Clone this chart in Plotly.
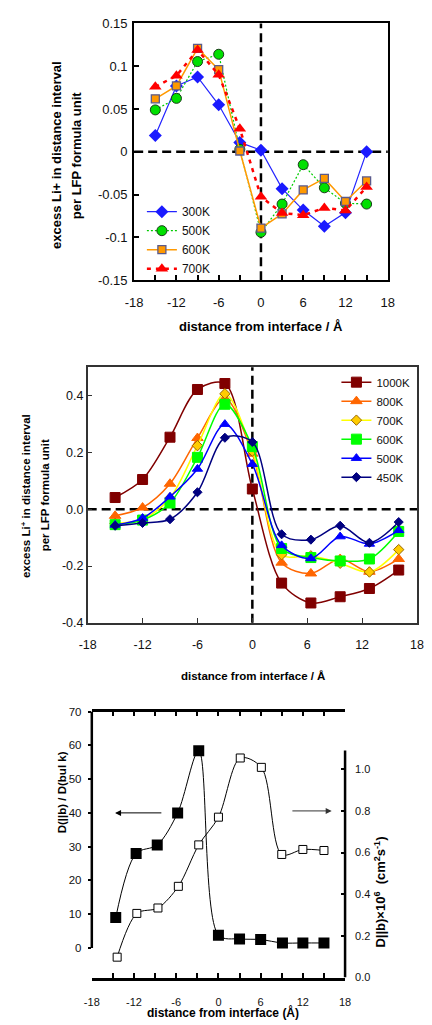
import plotly.graph_objects as go

# ---------------- data ----------------
# Panel 1: excess Li+ (MD, low temperatures)
P1_X = [-15, -12, -9, -6, -3, 0, 3, 6, 9, 12, 15]
P1_300K = [0.019, 0.077, 0.0875, 0.055, 0.011, 0.002, -0.043, -0.068, -0.087, -0.071, 0.0]
P1_500K = [0.049, 0.0625, 0.1055, 0.114, 0.003, -0.094, -0.061, -0.015, -0.042, -0.060, -0.061]
P1_600K = [0.062, 0.077, 0.121, 0.096, 0.001, -0.089, -0.0725, -0.0445, -0.031, -0.058, -0.034]
P1_700K = [0.076, 0.089, 0.119, 0.090, 0.027, -0.0525, -0.0715, -0.074, -0.0655, -0.0685, -0.041]

# Panel 2: excess Li+ (MD, higher temperatures)
P2_X = [-15, -12, -9, -6, -3, 0, 3.2, 6.4, 9.6, 12.8, 16]
P2_1000K = [0.0415, 0.105, 0.254, 0.422, 0.443, 0.0715, -0.26, -0.33, -0.308, -0.279, -0.214]
P2_800K = [-0.023, 0.006, 0.09, 0.251, 0.39, 0.196, -0.188, -0.226, -0.175, -0.22, -0.175]
P2_700K = [-0.05, -0.035, 0.04, 0.224, 0.407, 0.205, -0.16, -0.164, -0.19, -0.221, -0.142]
P2_600K = [-0.054, -0.038, 0.022, 0.183, 0.37, 0.221, -0.138, -0.17, -0.182, -0.175, -0.078]
P2_500K = [-0.055, -0.031, 0.044, 0.142, 0.30, 0.159, -0.127, -0.173, -0.096, -0.122, -0.074]
P2_450K = [-0.058, -0.048, -0.035, 0.06, 0.252, 0.237, -0.088, -0.107, -0.058, -0.118, -0.045]

# Panel 3: diffusion coefficient along b
P3_X_RATIO = [-14.6, -11.7, -8.7, -5.8, -2.8, 0, 3, 6, 9.1, 12, 15]
P3_RATIO = [9.0, 28.0, 30.5, 40.0, 58.4, 3.8, 2.7, 2.5, 1.5, 1.5, 1.5]
P3_X_ABS = [-14.4, -11.6, -8.6, -5.7, -2.8, 0, 3.1, 6.1, 9, 12, 15]
P3_ABS = [0.098, 0.308, 0.334, 0.438, 0.637, 0.77, 1.054, 1.009, 0.591, 0.615, 0.61]

# tick labels
X_TICKS = [-18, -12, -6, 0, 6, 12, 18]
X_TICKTEXT = ["-18", "-12", "-6", "0", "6", "12", "18"]
P1_YTICKS = [-0.15, -0.1, -0.05, 0, 0.05, 0.1, 0.15]
P1_YTICKTEXT = ["-0.15", "-0.1", "-0.05", "0", "0.05", "0.1", "0.15"]
P2_YTICKS = [-0.4, -0.2, 0, 0.2, 0.4]
P2_YTICKTEXT = ["-0.4", "-0.2", "0.0", "0.2", "0.4"]
P3_LTICKS = [0, 10, 20, 30, 40, 50, 60, 70]
P3_LTICKTEXT = ["0", "10", "20", "30", "40", "50", "60", "70"]
P3_RTICKS = [0, 0.2, 0.4, 0.6, 0.8, 1.0]
P3_RTICKTEXT = ["0.0", "0.2", "0.4", "0.6", "0.8", "1.0"]

W, H = 432, 1025
FONT = "Liberation Sans, Arial, sans-serif"


def px_x(p):
    return p / W


def px_y(p):
    return 1 - p / H


fig = go.Figure()

# ---------- panel 1 ----------
fig.add_trace(go.Scatter(x=P1_X, y=P1_300K, name="300K", mode="lines+markers",
                         line=dict(color="#2424FF", width=1.2),
                         marker=dict(symbol="diamond", size=10, color="#1A1AFF"),
                         xaxis="x", yaxis="y", legend="legend"))
fig.add_trace(go.Scatter(x=P1_X, y=P1_500K, name="500K", mode="lines+markers",
                         line=dict(color="#00CC00", width=1.2, dash="2px,2px"),
                         marker=dict(symbol="circle", size=10, color="#00E000",
                                     line=dict(color="#1a3a1a", width=1)),
                         xaxis="x", yaxis="y", legend="legend"))
fig.add_trace(go.Scatter(x=P1_X, y=P1_600K, name="600K", mode="lines+markers",
                         line=dict(color="#FF9900", width=1.5),
                         marker=dict(symbol="square", size=8, color="#FF9900",
                                     line=dict(color="#5A5A8C", width=1.3)),
                         xaxis="x", yaxis="y", legend="legend"))
fig.add_trace(go.Scatter(x=P1_X, y=P1_700K, name="700K", mode="lines+markers",
                         line=dict(color="#FF0000", width=2.5, dash="4px,5px"),
                         marker=dict(symbol="triangle-up", size=11, color="#FF0000"),
                         xaxis="x", yaxis="y", legend="legend"))

# ---------- panel 2 ----------
p2_series = [
    ("1000K", P2_1000K, "#800000", "square", 10, "#800000", "#800000"),
    ("800K", P2_800K, "#FF6600", "triangle-up", 10, "#FF6600", "#FF6600"),
    ("700K", P2_700K, "#FFFF00", "diamond", 8, "#FFCC00", "#996600"),
    ("600K", P2_600K, "#00FF00", "square", 10, "#00FF00", "#00FF00"),
    ("500K", P2_500K, "#0000FF", "triangle-up", 9, "#0000FF", "#0000FF"),
    ("450K", P2_450K, "#000080", "diamond", 7, "#000080", "#000080"),
]
for name, ys, lc, sym, sz, mc, ec in p2_series:
    fig.add_trace(go.Scatter(x=P2_X, y=ys, name=name, mode="lines+markers",
                             line=dict(color=lc, width=1.5, shape="spline", smoothing=0.9),
                             marker=dict(symbol=sym, size=sz, color=mc, line=dict(color=ec, width=1)),
                             xaxis="x2", yaxis="y2", legend="legend2"))

# ---------- panel 3 ----------
fig.add_trace(go.Scatter(x=P3_X_RATIO, y=P3_RATIO, name="D ratio", mode="lines+markers",
                         line=dict(color="black", width=1, shape="spline", smoothing=0.9),
                         marker=dict(symbol="square", size=11, color="black"),
                         xaxis="x3", yaxis="y3", showlegend=False))
fig.add_trace(go.Scatter(x=P3_X_ABS, y=P3_ABS, name="D abs", mode="lines+markers",
                         line=dict(color="black", width=1, shape="spline", smoothing=0.9),
                         marker=dict(symbol="square", size=8, color="white",
                                     line=dict(color="black", width=1)),
                         xaxis="x3", yaxis="y4", showlegend=False))

tickfont1 = dict(family=FONT, size=13, color="#111")
tickfont2 = dict(family=FONT, size=12.5, color="#111")
tickfont3 = dict(family=FONT, size=11.5, color="#111")

common_x = dict(range=[-18, 18], tickmode="array", tickvals=X_TICKS, ticktext=X_TICKTEXT,
                showgrid=False, zeroline=False)

fig.update_layout(
    width=W, height=H, margin=dict(l=0, r=0, t=0, b=0),
    paper_bgcolor="white", plot_bgcolor="white",
    font=dict(family=FONT, color="black"),
    xaxis=dict(domain=[px_x(130), px_x(393.3)], anchor="y", **common_x,
               ticks="inside", ticklen=5, tickcolor="black", tickwidth=1.5,
               minor=dict(dtick=3, tick0=0, ticks="inside", ticklen=5, tickcolor="black", tickwidth=1.5),
               showline=True, linecolor="black", linewidth=2, mirror=True,
               tickfont=tickfont1, ticklabelstandoff=9),
    yaxis=dict(domain=[px_y(277.3), px_y(16.7)], anchor="x", range=[-0.15, 0.15],
               tickmode="array", tickvals=P1_YTICKS, ticktext=P1_YTICKTEXT,
               ticks="inside", ticklen=5, tickcolor="black", tickwidth=1.5,
               showline=True, linecolor="black", linewidth=2, mirror=True,
               showgrid=False, zeroline=False, tickfont=tickfont1, ticklabelstandoff=2),
    xaxis2=dict(domain=[px_x(81.7), px_x(423.7)], anchor="y2", **common_x,
                ticks="inside", ticklen=5, tickcolor="#333", tickwidth=1,
                showline=True, linecolor="#333", linewidth=1.5, mirror=True,
                tickfont=tickfont2, ticklabelstandoff=9),
    yaxis2=dict(domain=[px_y(625), px_y(365.7)], anchor="x2", range=[-0.4, 0.5],
                tickmode="array", tickvals=P2_YTICKS, ticktext=P2_YTICKTEXT,
                ticks="inside", ticklen=5, tickcolor="#333", tickwidth=1,
                showline=True, linecolor="#333", linewidth=1.5, mirror=True,
                showgrid=False, zeroline=False, tickfont=tickfont2, ticklabelstandoff=0),
    xaxis3=dict(domain=[px_x(86), px_x(349)], anchor="y3", **common_x,
                ticks="inside", ticklen=5, tickcolor="black", tickwidth=2,
                minor=dict(dtick=3, tick0=0, ticks="inside", ticklen=5, tickcolor="black", tickwidth=2),
                showline=True, linecolor="black", linewidth=2.5, mirror="allticks",
                tickfont=dict(family=FONT, size=11, color="#111"), ticklabelstandoff=12),
    yaxis3=dict(domain=[px_y(985), px_y(715)], anchor="x3", range=[-8.75, 70],
                tickmode="array", tickvals=P3_LTICKS, ticktext=P3_LTICKTEXT,
                ticks="outside", ticklen=3, tickcolor="black", tickwidth=1.5,
                showline=False, showgrid=False, zeroline=False,
                tickfont=tickfont3, ticklabelstandoff=4),
    yaxis4=dict(domain=[px_y(985), px_y(715)], anchor="x3", overlaying="y3", side="right",
                range=[0, 1.277], tickmode="array", tickvals=P3_RTICKS, ticktext=P3_RTICKTEXT,
                ticks="inside", ticklen=4, tickcolor="black", tickwidth=1.5,
                showline=False, showgrid=False, zeroline=False,
                tickfont=dict(family=FONT, size=11, color="#111"), ticklabelstandoff=9),
    legend=dict(x=px_x(138), y=px_y(193), xanchor="left", yanchor="top",
                bgcolor="rgba(0,0,0,0)", font=dict(family=FONT, size=12, color="#111"),
                itemwidth=30, tracegroupgap=0),
    legend2=dict(x=px_x(340), y=px_y(366), xanchor="left", yanchor="top",
                 bgcolor="rgba(0,0,0,0)", font=dict(family=FONT, size=11.5, color="#111"),
                 itemwidth=30, tracegroupgap=0),
    showlegend=True,
)

# dashed reference lines
dash_style = dict(color="black", width=2.5, dash="9px,5px")
for xr, yr in (("x", "y"), ("x2", "y2")):
    fig.add_shape(type="line", xref=xr, yref=f"{yr} domain", x0=0, x1=0, y0=0, y1=1, line=dash_style, layer="below")
    fig.add_shape(type="line", xref=f"{xr} domain", yref=yr, x0=0, x1=1, y0=0, y1=0, line=dash_style, layer="below")

# panel 3 partial vertical axis lines
fig.add_shape(type="line", xref="x3 domain", yref="y3", x0=0, x1=0, y0=0, y1=70,
              line=dict(color="black", width=2.5))
fig.add_shape(type="line", xref="x3 domain", yref="y4", x0=1, x1=1, y0=0, y1=1.09,
              line=dict(color="black", width=2.5))

# arrows in panel 3
fig.add_annotation(xref="x3", yref="y3", x=-14.7, y=40, ax=-7.9, ay=40, axref="x3", ayref="y3",
                   text="", showarrow=True, arrowhead=2, arrowsize=1.2, arrowwidth=1, arrowcolor="black")
fig.add_annotation(xref="x3", yref="y4", x=16.1, y=0.8, ax=10.3, ay=0.8, axref="x3", ayref="y4",
                   text="", showarrow=True, arrowhead=2, arrowsize=1.2, arrowwidth=1, arrowcolor="#333")


def label(text, x, y, size, angle=0):
    fig.add_annotation(text=text, xref="paper", yref="paper", x=px_x(x), y=px_y(y),
                       xanchor="center", yanchor="middle", showarrow=False, textangle=angle,
                       font=dict(family=FONT, size=size, color="black"))


# axis titles
label("<b>excess Li+ in distance interval</b>", 50, 150, 13, -90)
label("<b>per LFP formula unit</b>", 70, 150, 13, -90)
label("<b>distance from interface / Å</b>", 262, 324, 13)

label("<b>excess Li<sup>+</sup> in distance interval</b>", 17, 496, 11.5, -90)
label("<b>per LFP formula unit</b>", 37, 496, 11.5, -90)
label("<b>distance from interface / Å</b>", 253, 679, 11.5)

label("<b>D(||b) / D(bul k)</b>", 55, 797, 11.5, -90)
label("<b>D||b)×10<sup>6</sup>  (cm<sup>2</sup>s<sup>-1</sup>)</b>", 385, 898, 13, -90)
label("<b>distance from interface (Å)</b>", 222, 1020, 12)

fig.write_html("out.html")
